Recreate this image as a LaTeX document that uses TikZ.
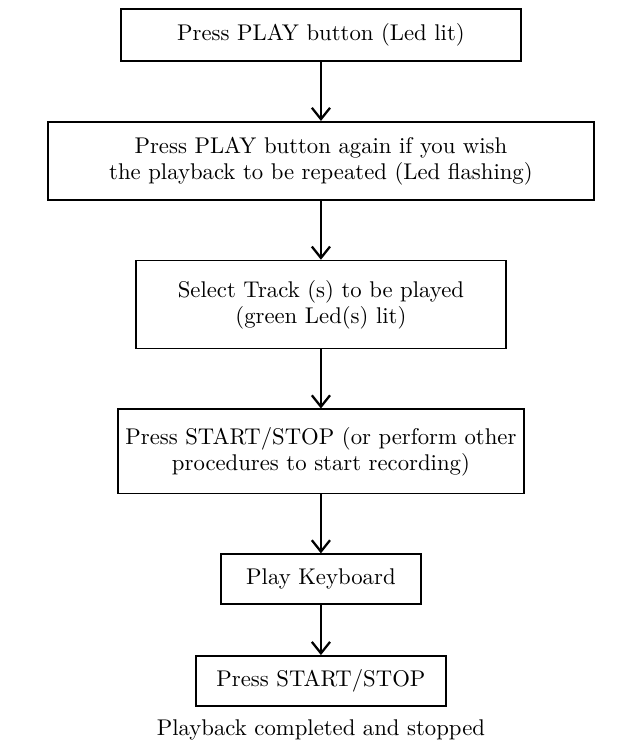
\documentclass[tikz,border=0pt]{standalone}
\usepackage{tikz}
\usetikzlibrary{positioning,arrows.meta}

\begin{document}
\begin{tikzpicture}[node distance=26pt, >={Straight Barb[length=5pt,width=8pt]},
    box/.style={draw, line width=0.75pt, rectangle, align=center, font=\fontsize{10}{11.5}\selectfont},
    flow/.style={->, line width=1pt}]

    \useasboundingbox (0,0) rectangle (271.5pt,-331.3pt);

    % Steps
    \node[box, minimum width=176pt, minimum height=22.9pt] (play) at (141.2pt,-15.4pt) {Press PLAY button (Led lit)};

    \node[box, minimum width=240.2pt, minimum height=34.3pt, below=of play] (again) {
        Press PLAY button again if you wish\\
        the playback to be repeated (Led flashing)
    };

    \node[box, minimum width=163pt, minimum height=38.7pt, below=of again] (track) {
        Select Track (s) to be played\\
        (green Led(s) lit)
    };

    \node[box, minimum width=178.6pt, minimum height=37pt, below=of track] (start) {
        Press START/STOP (or perform other\\
        procedures to start recording)
    };

    \node[box, minimum width=88pt, minimum height=22pt, below=of start] (keys) {Play Keyboard};

    \node[box, minimum width=110pt, minimum height=22pt, below=22pt of keys] (stop) {Press START/STOP};

    % Result
    \node[below=2pt of stop] (done) {Playback completed and stopped};

    % Arrows
    \draw[flow] (play) -- (again);
    \draw[flow] (again) -- (track);
    \draw[flow] (track) -- (start);
    \draw[flow] (start) -- (keys);
    \draw[flow] (keys) -- (stop);

\end{tikzpicture}
\end{document}
